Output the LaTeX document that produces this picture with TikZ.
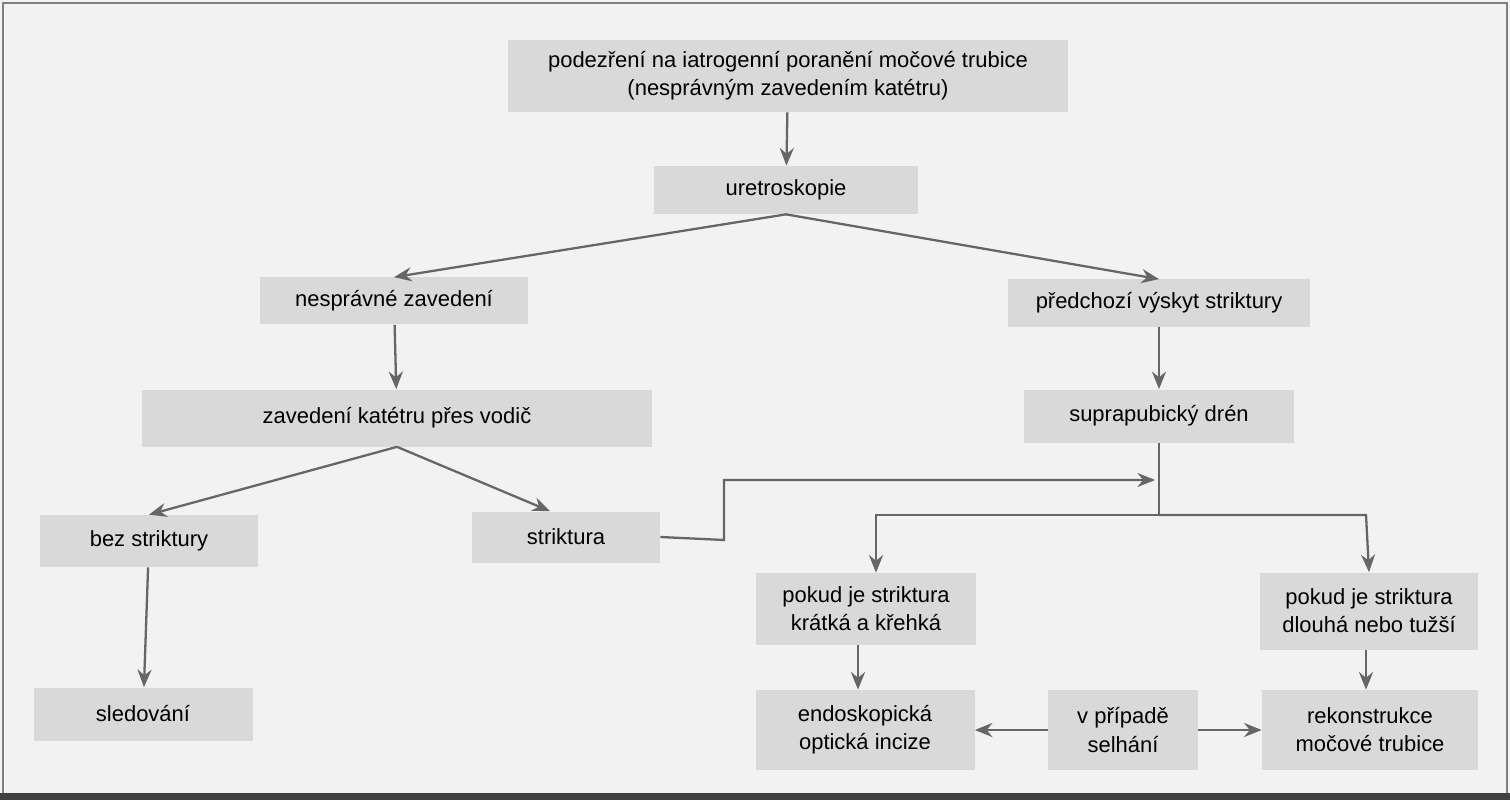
\documentclass[tikz,border=0pt]{standalone}
\usepackage{fontspec}
\setmainfont{Liberation Sans}
\usetikzlibrary{arrows.meta}
\definecolor{boxgray}{HTML}{D9D9D9}
\definecolor{bggray}{HTML}{F2F2F2}
\definecolor{arrgray}{HTML}{666666}
\tikzset{
  box/.style={fill=boxgray, align=center, inner sep=2pt,
    font=\fontsize{12.5}{16}\selectfont},
  link/.style={draw=arrgray, line width=1.3pt, -{Stealth[length=10pt,width=8pt]}},
  line/.style={draw=arrgray, line width=1.3pt}
}
\begin{document}
\begin{tikzpicture}[x=0.02cm,y=-0.02cm]
  % frame
  \fill[bggray] (0,0) rectangle (1510,800);
  \draw[gray, line width=0.8pt] (3,3) rectangle (1507,796);
  \fill[black!75] (0,793) rectangle (1510,800);
  % boxes
  \node[box, minimum width=560*0.02cm, minimum height=72*0.02cm] (susp) at (788,76)
    {podezření na iatrogenní poranění močové trubice\\(nesprávným zavedením katétru)};
  \node[box, minimum width=264*0.02cm, minimum height=48*0.02cm] (uretro) at (786,190) {uretroskopie};
  \node[box, minimum width=268*0.02cm, minimum height=47*0.02cm] (wrong) at (394,301) {nesprávné zavedení};
  \node[box, minimum width=302*0.02cm, minimum height=47*0.02cm] (prior) at (1159,303) {předchozí výskyt striktury};
  \node[box, minimum width=510*0.02cm, minimum height=57*0.02cm] (guide) at (397,418) {zavedení katétru přes vodič};
  \node[box, minimum width=270*0.02cm, minimum height=53*0.02cm] (supra) at (1159,416) {suprapubický drén};
  \node[box, minimum width=218*0.02cm, minimum height=52*0.02cm] (nostr) at (149,541) {bez striktury};
  \node[box, minimum width=188*0.02cm, minimum height=51*0.02cm] (str) at (566,537) {striktura};
  \node[box, minimum width=220*0.02cm, minimum height=72*0.02cm] (short) at (866,609) {pokud je striktura\\krátká a křehká};
  \node[box, minimum width=218*0.02cm, minimum height=77*0.02cm] (long) at (1369,611) {pokud je striktura\\dlouhá nebo tužší};
  \node[box, minimum width=219*0.02cm, minimum height=53*0.02cm] (follow) at (143,714) {sledování};
  \node[box, minimum width=219*0.02cm, minimum height=80*0.02cm] (endo) at (865,730) {endoskopická\\optická incize};
  \node[box, minimum width=150*0.02cm, minimum height=80*0.02cm] (fail) at (1123,730) {v případě\\selhání};
  \node[box, minimum width=216*0.02cm, minimum height=80*0.02cm] (recon) at (1370,730) {rekonstrukce\\močové trubice};
  % junctions
  \coordinate (sj1) at (724,540);
  \coordinate (sj2) at (724,480);
  \coordinate (sj3) at (1155,480);
  \coordinate (fork) at (1159,515);
  \coordinate (forkl) at (876,515);
  \coordinate (forkr) at (1366,515);
  % connectors
  \draw[link] (susp) -- (uretro);
  \draw[link] (uretro.south) -- (wrong.north);
  \draw[link] (uretro.south) -- (prior.north);
  \draw[link] (wrong) -- (guide);
  \draw[link] (prior) -- (supra);
  \draw[link] (guide.south) -- (nostr.north);
  \draw[link] (guide.south) -- ([xshift=-16*0.02cm]str.north);
  \draw[link] (nostr) -- (follow);
  \draw[link] (str.east) -- (sj1) -- (sj2) -- (sj3);
  \draw[line] (supra.south) -- (fork);
  \draw[link] (fork) -- (forkl) -- ([xshift=10*0.02cm]short.north);
  \draw[link] (fork) -- (forkr) -- (long.north);
  \draw[link] ([xshift=-8*0.02cm]short.south) -- ([xshift=-7*0.02cm]endo.north);
  \draw[link] ([xshift=-3*0.02cm]long.south) -- ([xshift=-4*0.02cm]recon.north);
  \draw[link] (fail) -- (endo);
  \draw[link] (fail) -- (recon);
\end{tikzpicture}
\end{document}
